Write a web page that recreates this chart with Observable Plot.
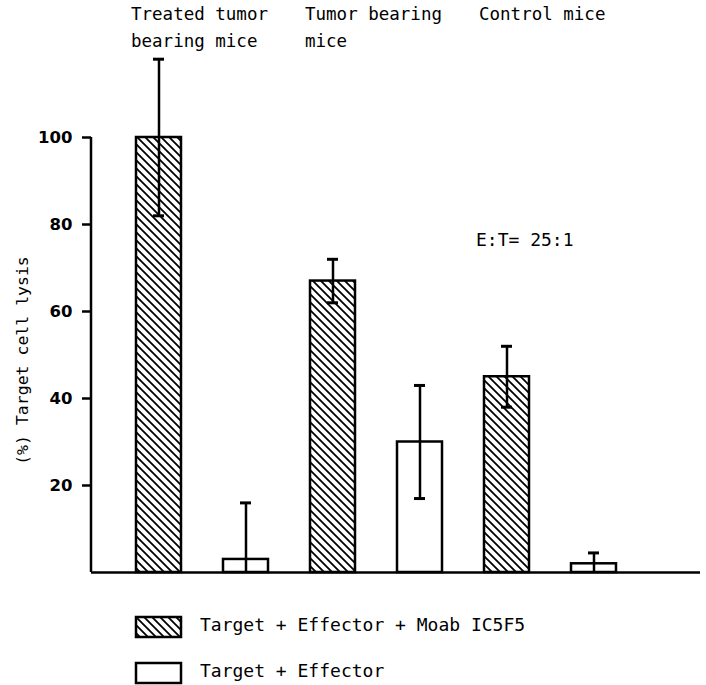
<!DOCTYPE html>
<html>
<head>
<meta charset="utf-8">
<script src="https://cdn.jsdelivr.net/npm/d3@7"></script>
<script src="https://cdn.jsdelivr.net/npm/@observablehq/plot@0.6"></script>
<style>
  body { margin: 0; background: #fff; }
  #chart { width: 706px; height: 685px; background: #fff; }
  #chart svg { display: block; }
</style>
</head>
<body>
<div id="chart"></div>
<script>
// Mouse groups and the two assay conditions
const groups = ["Treated tumor\nbearing mice", "Tumor bearing\nmice", "Control mice"];
const treatments = ["Target + Effector + Moab IC5F5", "Target + Effector"];

// Percent target cell lysis (mean and error) per group
const lysisWithMoab = [100, 67, 45];
const errWithMoab = [18, 5, 7];
const lysisWithoutMoab = [3, 30, 2];
const errWithoutMoab = [13, 13, 2.5];

const yTicks = [20, 40, 60, 80, 100];
const yLabel = "(%) Target cell lysis";
const ratioLabel = "E:T= 25:1";
const ratioLevel = 75;

const mono = "DejaVu Sans Mono";
const ink = "black";

const rows = groups.flatMap((g, i) => [
  {group: g, treatment: treatments[0], hatched: true, value: lysisWithMoab[i], err: errWithMoab[i]},
  {group: g, treatment: treatments[1], hatched: false, value: lysisWithoutMoab[i], err: errWithoutMoab[i]}
]).map(d => ({
  ...d,
  key: `${d.group}|${d.treatment}`,
  lo: Math.max(0, d.value - d.err),
  hi: d.value + d.err
}));
const hatchedRows = rows.filter(d => d.hatched);
const plainRows = rows.filter(d => !d.hatched);
const lowerCaps = rows.filter(d => d.value - d.err > 0);

const marginTop = 137;

// Vertical axis line, from zero up to the highest tick
function axisLine(index, {y}, values, {marginLeft}) {
  return d3.create("svg:line")
    .attr("x1", marginLeft).attr("x2", marginLeft)
    .attr("y1", y(0)).attr("y2", y(d3.max(yTicks)))
    .attr("stroke", ink).attr("stroke-width", 2.5)
    .node();
}

const plot = Plot.plot({
  width: 706,
  height: 600,
  marginTop,
  marginBottom: 28,
  marginLeft: 91,
  marginRight: 6,
  style: {background: "white", color: ink},
  x: {domain: rows.map(d => d.key), paddingInner: 0.485, paddingOuter: 0.7265, align: 0.35, axis: null},
  y: {domain: [0, 100], axis: null},
  marks: [
    Plot.barY(hatchedRows, {x: "key", y: "value", fill: "url(#hatch)", stroke: ink, strokeWidth: 2.5}),
    Plot.barY(plainRows, {x: "key", y: "value", fill: "white", stroke: ink, strokeWidth: 2.5}),
    Plot.ruleX(rows, {x: "key", y1: "lo", y2: "hi", stroke: ink, strokeWidth: 2.5}),
    Plot.tickY(rows, {x: "key", y: "hi", stroke: ink, strokeWidth: 3, insetLeft: 17, insetRight: 17}),
    Plot.tickY(lowerCaps, {x: "key", y: "lo", stroke: ink, strokeWidth: 3, insetLeft: 17, insetRight: 17}),
    Plot.ruleY([0], {stroke: ink, strokeWidth: 2.5}),
    axisLine,
    Plot.axisY({
      ticks: yTicks, tickSize: 9, tickPadding: 10, strokeWidth: 2.5, label: null,
      fontSize: 16.5, fontWeight: "bold", fontFamily: "DejaVu Sans"
    }),
    Plot.text([yLabel], {
      text: d => d, frameAnchor: "left", textAnchor: "middle", dx: -69, dy: 5.5, rotate: -90,
      fontFamily: mono, fontSize: 16.5, fill: ink
    }),
    Plot.text(hatchedRows, {
      x: "key", text: "group", frameAnchor: "top", dy: -marginTop, dx: -28,
      textAnchor: "start", lineAnchor: "top", lineHeight: 1.543,
      fontFamily: mono, fontSize: 17.5, fill: ink
    }),
    Plot.text([ratioLabel], {
      x: () => hatchedRows[2].key, y: () => ratioLevel, text: d => d, dx: -31,
      textAnchor: "start", lineAnchor: "bottom", fontFamily: mono, fontSize: 18, fill: ink
    })
  ]
});

// Diagonal hatch fill used by the antibody bars
d3.select(plot).insert("defs", ":first-child").html(`
  <pattern id="hatch" patternUnits="userSpaceOnUse" width="8" height="8">
    <rect width="8" height="8" fill="white"/>
    <path d="M-2,-2L10,10M-2,6L2,10M6,-2L10,2" stroke="black" stroke-width="1.8"/>
  </pattern>`);

const chart = document.getElementById("chart");
chart.append(plot);

// Legend below the plot, swatches aligned with the first bar
const xs = plot.scale("x");
const swatchX = xs.apply(rows[0].key);
const swatchW = xs.bandwidth;
const legend = d3.select(chart).append("svg")
  .attr("width", 706).attr("height", 85)
  .attr("font-family", mono).attr("font-size", 18);
const item = legend.selectAll("g").data(treatments).join("g")
  .attr("transform", (d, i) => `translate(0,${17 + i * 46})`);
item.append("rect")
  .attr("x", swatchX).attr("y", 0).attr("width", swatchW).attr("height", 20)
  .attr("fill", (d, i) => i === 0 ? "url(#hatch)" : "white")
  .attr("stroke", ink).attr("stroke-width", 2.5);
item.append("text")
  .attr("x", 200).attr("y", 14)
  .attr("fill", ink)
  .text(d => d);
</script>
</body>
</html>
